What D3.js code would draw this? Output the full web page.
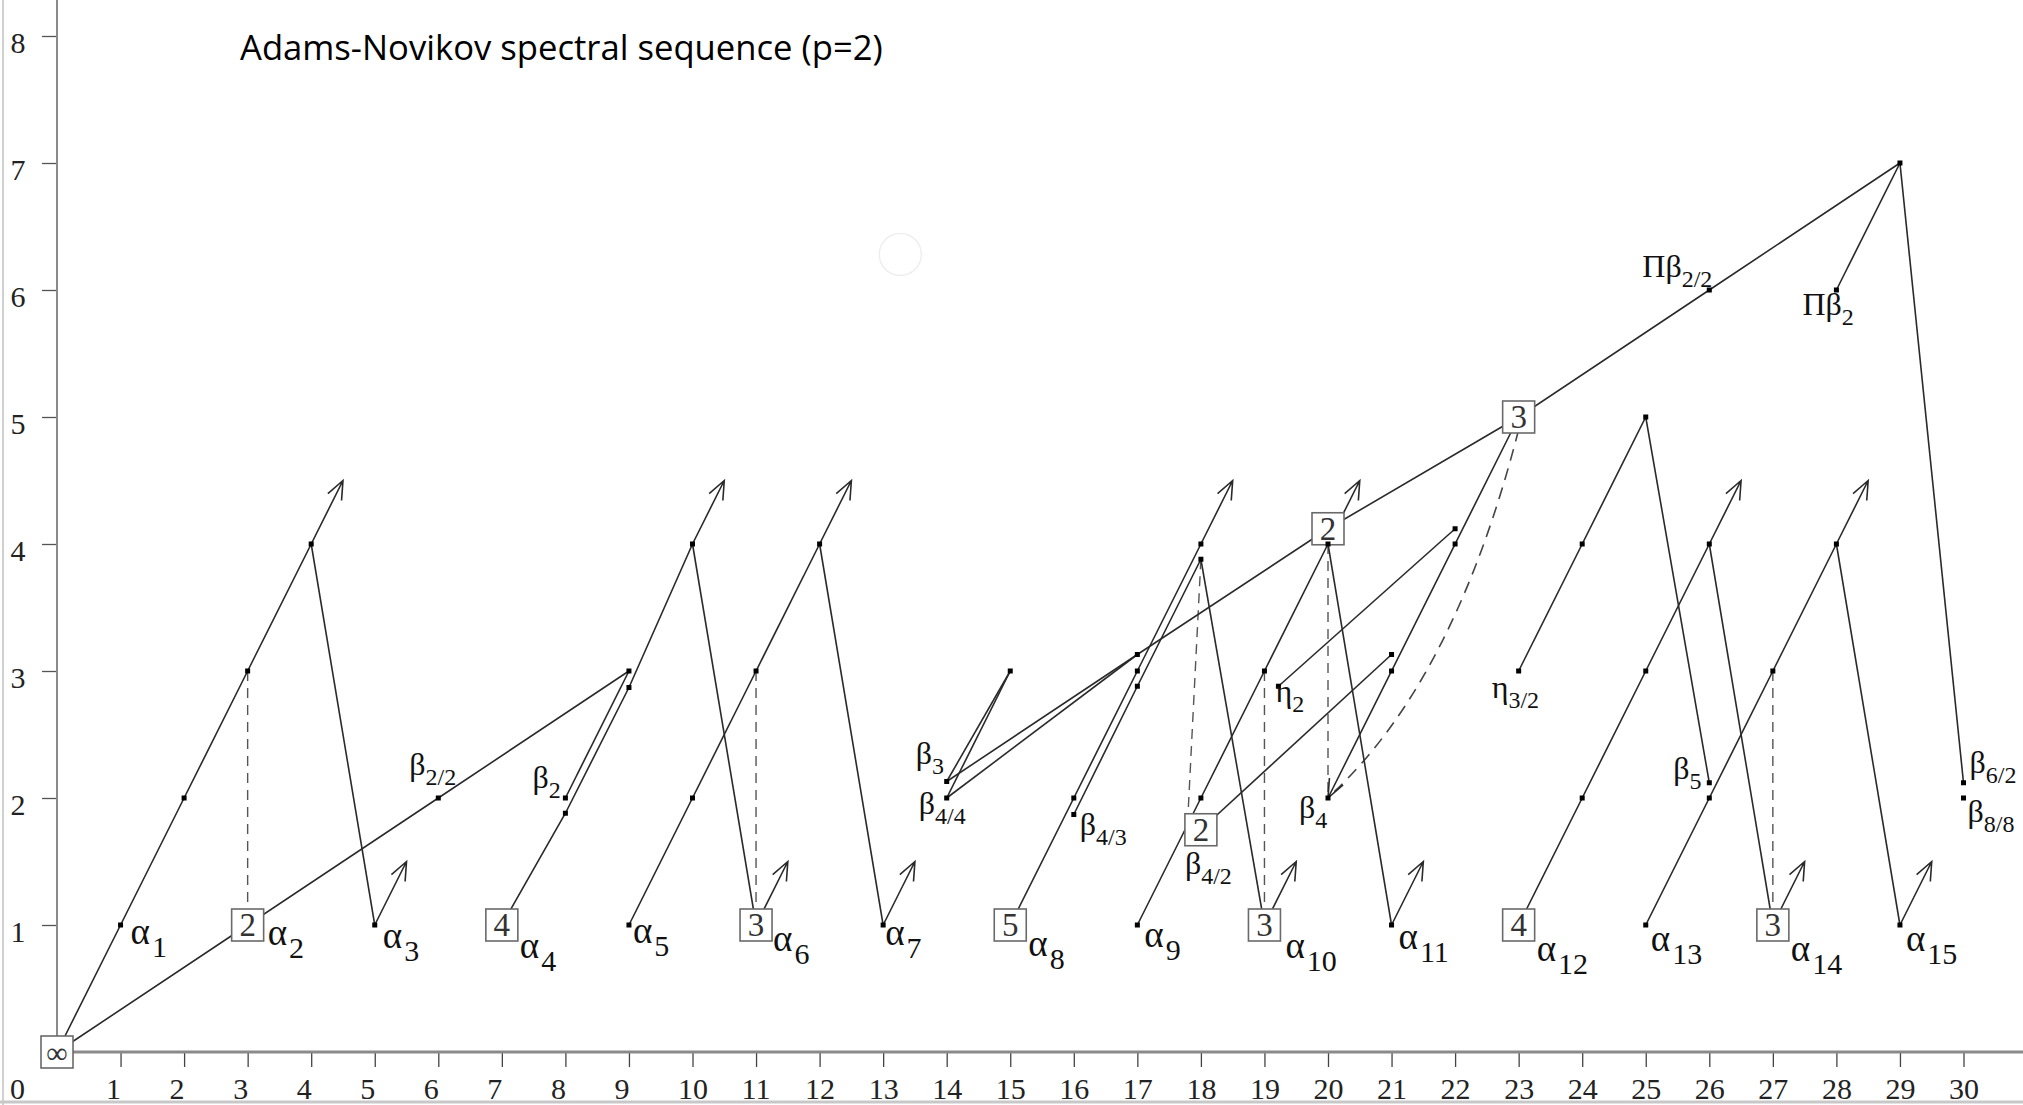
<!DOCTYPE html>
<html>
<head>
<meta charset="utf-8">
<script src="https://cdn.jsdelivr.net/npm/d3@7"></script>
<style>
  html, body { margin: 0; padding: 0; background: #fff; }
  svg { display: block; }
  .serif { font-family: "Liberation Serif", "DejaVu Serif", serif; }
</style>
</head>
<body>
<svg id="chart"></svg>
<script>
// axis ticks (stem t-s across, filtration s up)
const xTicks = d3.range(1, 31),
      yTicks = d3.range(1, 9);

// classes drawn as small dots
const dots = [
  [1, 1], [2, 2], [3, 3], [4, 4], [5, 1], [6, 2], [8, 2], [8, 1.88], [9, 3], [9, 2.87],
  [9, 1], [10, 2], [10, 4], [11, 3], [12, 4], [13, 1],
  [14, 2.13], [14, 2], [15, 3], [16, 2], [16, 1.87], [17, 3.13], [17, 3], [17, 2.88], [17, 1],
  [18, 4], [18, 3.88], [18, 2], [19, 3], [19.22, 2.88], [20, 4], [20, 2], [21, 3.13], [21, 3],
  [21, 1], [22, 4.12], [22, 4], [23, 3], [24, 4], [25, 5], [26, 2.12], [26, 2], [24, 2], [25, 3],
  [26, 4], [25, 1], [27, 3], [28, 4], [29, 1], [26, 6], [28, 6], [29, 7], [30, 2.12], [30, 2]
];

// boxed classes [x, y, order]
const boxes = [
  [0, 0, '∞'], [3, 1, '2'], [7, 1, '4'], [11, 1, '3'], [15, 1, '5'], [18, 1.75, '2'],
  [19, 1, '3'], [20, 4.12, '2'], [23, 5, '3'], [23, 1, '4'], [27, 1, '3']
];

// solid product lines
const solidLines = [
  [[0, 0], [1, 1], [2, 2], [3, 3], [4, 4]],
  [[4, 4], [5, 1]],
  [[0, 0], [3, 1], [6, 2], [9, 3]],
  [[7, 1], [8, 1.88], [9, 2.87], [10, 4]],
  [[8, 2], [9, 3]],
  [[10, 4], [11, 1]],
  [[9, 1], [10, 2], [11, 3], [12, 4]],
  [[12, 4], [13, 1]],
  [[14, 2.13], [15, 3]],
  [[14, 2], [15, 3]],
  [[14, 2.13], [17, 3.13], [20, 4.12], [23, 5], [26, 6], [29, 7]],
  [[14, 2], [17, 3.13]],
  [[15, 1], [16, 2], [17, 3], [18, 4]],
  [[16, 1.87], [17, 2.88], [18, 3.88]],
  [[18, 3.88], [19, 1]],
  [[17, 1], [18, 2], [19, 3], [20, 4]],
  [[18, 1.75], [21, 3.13]],
  [[20, 4], [21, 1]],
  [[19.22, 2.88], [22, 4.12]],
  [[23, 3], [24, 4], [25, 5], [26, 2.12]],
  [[23, 1], [24, 2], [25, 3], [26, 4]],
  [[26, 4], [27, 1]],
  [[25, 1], [26, 2], [27, 3], [28, 4]],
  [[28, 4], [29, 1]],
  [[29, 7], [28, 6]],
  [[29, 7], [30, 2.12]]
];

// dashed extensions
const dashedLines = [
  [[3, 3], [3, 1]],
  [[11, 3], [11, 1]],
  [[18, 3.88], [17.8, 1.9]],
  [[19, 3], [19, 1]],
  [[20, 4], [20, 2]],
  [[27, 3], [27, 1]]
];
const dashedCurve = [[23, 4.9], [22, 2.95], [20.1, 2.05]];

// arrows [from, to]
const arrows = [
  [[4, 4], [4.5, 4.5]], [[5, 1], [5.5, 1.5]], [[10, 4], [10.5, 4.5]], [[11, 1], [11.5, 1.5]],
  [[12, 4], [12.5, 4.5]], [[13, 1], [13.5, 1.5]], [[18, 4], [18.5, 4.5]], [[19, 1], [19.5, 1.5]],
  [[20, 4], [20.5, 4.5]], [[21, 1], [21.5, 1.5]], [[26, 4], [26.5, 4.5]], [[27, 1], [27.5, 1.5]],
  [[28, 4], [28.5, 4.5]], [[29, 1], [29.5, 1.5]], [[23, 5], [20, 2]]
];

// labels [x, y, name, subscript, dx, dy]
const labels = [
  [1, 1, 'α', '1', 10, 19], [3, 1, 'α', '2', 20, 20], [5, 1, 'α', '3', 8, 23],
  [7, 1, 'α', '4', 18, 33], [9, 1, 'α', '5', 4, 18], [11, 1, 'α', '6', 17, 26],
  [13, 1, 'α', '7', 2, 20], [15, 1, 'α', '8', 18, 31], [17, 1, 'α', '9', 7, 22],
  [19, 1, 'α', '10', 21, 33], [21, 1, 'α', '11', 7, 24], [23, 1, 'α', '12', 18, 36],
  [25, 1, 'α', '13', 5, 26], [27, 1, 'α', '14', 18, 36], [29, 1, 'α', '15', 6, 26],
  [6, 2, 'β', '2/2', -29, -23], [8, 2, 'β', '2', -33, -10],
  [14, 2.13, 'β', '3', -31, -17], [14, 2, 'β', '4/4', -28, 16],
  [16, 1.87, 'β', '4/3', 6, 20], [18, 1.75, 'β', '4/2', -16, 44],
  [19.22, 2.88, 'η', '2', -3, 16], [20, 2, 'β', '4', -29, 20],
  [23, 3, 'η', '3/2', -27, 27], [26, 2.12, 'β', '5', -36, -4],
  [26, 6, 'Πβ', '2/2', -67, -13], [28, 6, 'Πβ', '2', -34, 25],
  [30, 2.12, 'β', '6/2', 6, -10], [30, 2, 'β', '8/8', 4, 24]
];

const title = 'Adams-Novikov spectral sequence (p=2)',
      cursorRing = [13.27, 6.28];

const width = 2023,
      height = 1105,
      $chart = d3.select('#chart')
                 .attr('width', width)
                 .attr('height', height);

const x = d3.scaleLinear().domain([0, 30]).range([57, 1963.5]),
      y = d3.scaleLinear().domain([0, 8]).range([1052, 36]),
      line = d3.line().x((d) => x(d[0])).y((d) => y(d[1]));

// frame edges of the screenshot
$chart.append('line')
    .attr('x1', 3).attr('x2', 3).attr('y1', 0).attr('y2', height)
    .attr('stroke', '#d0d0d0').attr('stroke-width', 2);
$chart.append('line')
    .attr('x1', 0).attr('x2', width).attr('y1', 1102).attr('y2', 1102)
    .attr('stroke', '#c8c8c8').attr('stroke-width', 3);

// axes
const xAxis = $chart.append('g')
    .attr('transform', `translate(0,${y(0)})`)
    .call(d3.axisBottom(x).tickValues(xTicks).tickSize(15).tickSizeOuter(0));
xAxis.select('.domain').remove();
xAxis.selectAll('.tick line').attr('stroke', '#444').attr('stroke-width', 1.3);
xAxis.selectAll('.tick text')
    .attr('class', 'serif')
    .attr('text-anchor', 'start')
    .attr('x', -15)
    .attr('y', 47)
    .attr('dy', null)
    .attr('font-size', 30)
    .attr('fill', '#222');

$chart.append('line')
    .attr('x1', x(0)).attr('x2', width)
    .attr('y1', y(0)).attr('y2', y(0))
    .attr('stroke', '#8a8a8a').attr('stroke-width', 3);

$chart.append('text')
    .attr('class', 'serif')
    .attr('x', 10)
    .attr('y', y(0) + 47)
    .attr('font-size', 30)
    .attr('fill', '#222')
    .text('0');

const yAxis = $chart.append('g')
    .attr('transform', `translate(${x(0)},0)`)
    .call(d3.axisLeft(y).tickValues(yTicks).tickSize(15).tickSizeOuter(0));
yAxis.select('.domain').remove();
yAxis.selectAll('.tick line').attr('stroke', '#555').attr('stroke-width', 1.3);
yAxis.selectAll('.tick text')
    .attr('class', 'serif')
    .attr('text-anchor', 'middle')
    .attr('x', -39)
    .attr('y', 16)
    .attr('dy', null)
    .attr('font-size', 30)
    .attr('fill', '#222');

$chart.append('line')
    .attr('x1', x(0)).attr('x2', x(0))
    .attr('y1', 0).attr('y2', y(0))
    .attr('stroke', '#8a8a8a').attr('stroke-width', 2);

// faint cursor ring left in the screenshot
$chart.append('circle')
    .attr('cx', x(cursorRing[0]))
    .attr('cy', y(cursorRing[1]))
    .attr('r', 21)
    .attr('fill', 'none')
    .attr('stroke', '#eeeeee')
    .attr('stroke-width', 1.5);

// dashed lines
$chart.append('g')
  .selectAll('path')
  .data(dashedLines)
  .enter()
  .append('path')
    .attr('d', line)
    .attr('fill', 'none')
    .attr('stroke', '#555')
    .attr('stroke-width', 1.4)
    .attr('stroke-dasharray', '10,7');

const curve = d3.path();
curve.moveTo(x(dashedCurve[0][0]), y(dashedCurve[0][1]));
curve.quadraticCurveTo(x(dashedCurve[1][0]), y(dashedCurve[1][1]),
                       x(dashedCurve[2][0]), y(dashedCurve[2][1]));
$chart.append('path')
    .attr('d', curve.toString())
    .attr('fill', 'none')
    .attr('stroke', '#444')
    .attr('stroke-width', 1.6)
    .attr('stroke-dasharray', '12,8');

// solid lines
$chart.append('g')
  .selectAll('path')
  .data(solidLines)
  .enter()
  .append('path')
    .attr('d', line)
    .attr('fill', 'none')
    .attr('stroke', '#2a2a2a')
    .attr('stroke-width', 1.6);

// arrows with open heads
const headLen = 20,
      headAngle = Math.PI / 8;

const $arrows = $chart.append('g')
  .selectAll('g')
  .data(arrows)
  .enter()
  .append('g');

$arrows.append('path')
    .attr('d', (d) => {
      const x0 = x(d[0][0]), y0 = y(d[0][1]),
            x1 = x(d[1][0]), y1 = y(d[1][1]),
            a = Math.atan2(y0 - y1, x0 - x1);
      return `M${x0},${y0}L${x1},${y1}` +
        `M${x1 + headLen * Math.cos(a + headAngle)},${y1 + headLen * Math.sin(a + headAngle)}` +
        `L${x1},${y1}` +
        `L${x1 + headLen * Math.cos(a - headAngle)},${y1 + headLen * Math.sin(a - headAngle)}`;
    })
    .attr('fill', 'none')
    .attr('stroke', '#2a2a2a')
    .attr('stroke-width', 1.6);

// boxes
const boxSize = 32;
const $boxes = $chart.append('g')
  .selectAll('g')
  .data(boxes)
  .enter()
  .append('g')
    .attr('transform', (d) => `translate(${x(d[0])},${y(d[1])})`);

$boxes.append('rect')
    .attr('x', -boxSize / 2)
    .attr('y', -boxSize / 2)
    .attr('width', boxSize)
    .attr('height', boxSize)
    .attr('fill', '#fff')
    .attr('stroke', '#6a6a6a')
    .attr('stroke-width', 1.6);

$boxes.append('text')
    .attr('class', 'serif')
    .attr('text-anchor', 'middle')
    .attr('y', 11)
    .attr('font-size', (d) => d[2] === '∞' ? 30 : 33)
    .attr('fill', '#333')
    .text((d) => d[2]);

// dots
$chart.append('g')
  .selectAll('rect')
  .data(dots)
  .enter()
  .append('rect')
    .attr('x', (d) => x(d[0]) - 2.5)
    .attr('y', (d) => y(d[1]) - 2.5)
    .attr('width', 5)
    .attr('height', 5)
    .attr('fill', '#000');

// labels: the alpha family is set larger than the rest
const $labels = $chart.append('g')
  .selectAll('text')
  .data(labels)
  .enter()
  .append('text')
    .attr('class', 'serif')
    .attr('x', (d) => x(d[0]) + d[4])
    .attr('y', (d) => y(d[1]) + d[5])
    .attr('font-size', (d) => d[2] === 'α' ? 37 : 32)
    .attr('fill', '#111');

$labels.append('tspan').text((d) => d[2]);
$labels.append('tspan')
    .attr('dx', (d) => d[2] === 'α' ? 2 : 0)
    .attr('dy', (d) => d[2] === 'α' ? 13 : 10)
    .attr('font-size', (d) => d[2] === 'α' ? 30 : 24)
    .text((d) => d[3]);

// title
const $title = $chart.append('text')
    .attr('x', 240)
    .attr('y', 60)
    .attr('font-family', '"Open Sans", "Noto Sans", sans-serif')
    .attr('font-size', 32)
    .attr('fill', '#000')
    .text(title);

const tw = $title.node().getComputedTextLength();
$title.attr('font-size', 32 * 643 / tw);
</script>
</body>
</html>
